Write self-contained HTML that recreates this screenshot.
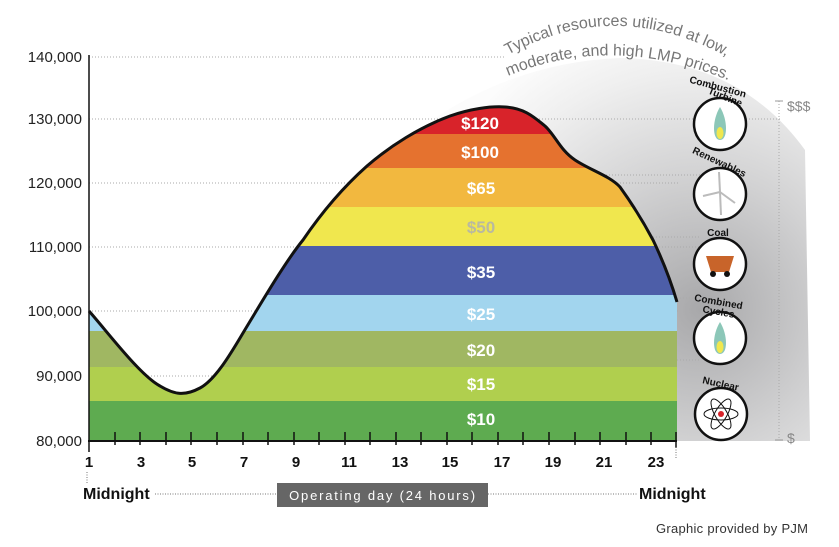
<!DOCTYPE html>
<html><head><meta charset="utf-8"><style>
body{margin:0;background:#fff}
svg{display:block}
text{font-family:"Liberation Sans",sans-serif}
</style></head><body>
<svg width="839" height="547" viewBox="0 0 839 547">
<defs>
<radialGradient id="g" cx="700" cy="310" r="300" gradientUnits="userSpaceOnUse">
<stop offset="0" stop-color="#a8a8aa"/><stop offset="0.45" stop-color="#d2d2d3"/><stop offset="0.8" stop-color="#efefef"/><stop offset="1" stop-color="#fcfcfc"/>
</radialGradient>
<clipPath id="c"><path d="M89,311 C110,335 140,375 160,386 C175,395 185,396 200,388 C215,380 230,355 243,333 C260,305 285,262 303,240 C320,215 340,190 367,166 C390,146 420,127 450,116 C470,109 490,106 505,107 C525,108 535,118 545,126 C555,135 560,150 575,160 C590,170 610,176 620,187 C633,205 645,225 653,240 C665,265 672,285 677,302 L677,441 L89,441 Z"/></clipPath>
<path id="a1" d="M508,55 Q640,-18 780,92"/>
<path id="a2" d="M508,76 Q630,25 770,100"/>
</defs>
<path d="M435,118 Q520,62 620,58 Q740,60 805,150 L810,441 L677,441 L677,300 Z" fill="url(#g)"/>
<g stroke="#aaa" stroke-width="1" stroke-dasharray="1,2">
<line x1="89" y1="57" x2="505" y2="57"/><line x1="89" y1="119" x2="780" y2="119"/>
<line x1="89" y1="183" x2="680" y2="183"/><line x1="89" y1="247" x2="700" y2="247"/>
<line x1="89" y1="311" x2="680" y2="311"/><line x1="100" y1="376" x2="300" y2="376"/>
<line x1="600" y1="175" x2="700" y2="175"/><line x1="650" y1="237" x2="700" y2="237"/>
<line x1="677" y1="298" x2="700" y2="298"/><line x1="677" y1="360" x2="700" y2="360"/>
<line x1="779" y1="101" x2="779" y2="440"/>
</g>
<line x1="775" y1="101" x2="783" y2="101" stroke="#999"/><line x1="775" y1="440" x2="783" y2="440" stroke="#999"/>
<g clip-path="url(#c)">
<rect x="89" y="100" width="590" height="35" fill="#d8232a"/>
<rect x="89" y="134" width="590" height="34" fill="#e5722f"/>
<rect x="89" y="168" width="590" height="39" fill="#f2b83f"/>
<rect x="89" y="207" width="590" height="39" fill="#f0e74e"/>
<rect x="89" y="246" width="590" height="49" fill="#4d5ea8"/>
<rect x="89" y="295" width="590" height="36" fill="#a2d5ee"/>
<rect x="89" y="331" width="590" height="36" fill="#a0b762"/>
<rect x="89" y="367" width="590" height="34" fill="#b0cf4e"/>
<rect x="89" y="401" width="590" height="40" fill="#5eab50"/>
</g>
<path d="M89,311 C110,335 140,375 160,386 C175,395 185,396 200,388 C215,380 230,355 243,333 C260,305 285,262 303,240 C320,215 340,190 367,166 C390,146 420,127 450,116 C470,109 490,106 505,107 C525,108 535,118 545,126 C555,135 560,150 575,160 C590,170 610,176 620,187 C633,205 645,225 653,240 C665,265 672,285 677,302" fill="none" stroke="#111" stroke-width="3"/>
<g font-weight="bold" font-size="17" fill="#fff" text-anchor="middle">
<text x="480" y="129">$120</text><text x="480" y="158">$100</text><text x="481" y="194">$65</text>
<text x="481" y="233" fill="#b9b9a0">$50</text><text x="481" y="278">$35</text><text x="481" y="320">$25</text>
<text x="481" y="356">$20</text><text x="481" y="390">$15</text><text x="481" y="425">$10</text>
</g>
<line x1="89" y1="55" x2="89" y2="442" stroke="#111" stroke-width="1.5"/>
<line x1="88" y1="441" x2="677" y2="441" stroke="#111" stroke-width="2"/>
<g stroke="#111" stroke-width="1.5">
<line x1="89" y1="441" x2="89" y2="452"/><line x1="115" y1="432" x2="115" y2="445"/><line x1="140" y1="432" x2="140" y2="445"/><line x1="166" y1="432" x2="166" y2="445"/><line x1="191" y1="432" x2="191" y2="445"/><line x1="217" y1="432" x2="217" y2="445"/><line x1="243" y1="432" x2="243" y2="445"/><line x1="268" y1="432" x2="268" y2="445"/><line x1="294" y1="432" x2="294" y2="445"/><line x1="319" y1="432" x2="319" y2="445"/><line x1="345" y1="432" x2="345" y2="445"/><line x1="370" y1="432" x2="370" y2="445"/><line x1="396" y1="432" x2="396" y2="445"/><line x1="421" y1="432" x2="421" y2="445"/><line x1="447" y1="432" x2="447" y2="445"/><line x1="472" y1="432" x2="472" y2="445"/><line x1="498" y1="432" x2="498" y2="445"/><line x1="523" y1="432" x2="523" y2="445"/><line x1="549" y1="432" x2="549" y2="445"/><line x1="575" y1="432" x2="575" y2="445"/><line x1="600" y1="432" x2="600" y2="445"/><line x1="626" y1="432" x2="626" y2="445"/><line x1="651" y1="432" x2="651" y2="445"/><line x1="676" y1="432" x2="676" y2="448"/>
</g>
<g font-size="15" fill="#222" text-anchor="end">
<text x="82" y="62">140,000</text><text x="82" y="124">130,000</text><text x="82" y="188">120,000</text>
<text x="82" y="252">110,000</text><text x="82" y="316">100,000</text><text x="82" y="381">90,000</text><text x="82" y="446">80,000</text>
</g>
<g font-size="15" font-weight="bold" fill="#111" text-anchor="middle">
<text x="89" y="467">1</text><text x="141" y="467">3</text><text x="192" y="467">5</text><text x="244" y="467">7</text>
<text x="296" y="467">9</text><text x="349" y="467">11</text><text x="400" y="467">13</text><text x="450" y="467">15</text>
<text x="502" y="467">17</text><text x="553" y="467">19</text><text x="604" y="467">21</text><text x="656" y="467">23</text>
</g>
<g stroke="#777" stroke-dasharray="1,1.5" fill="none">
<line x1="87" y1="472" x2="87" y2="484"/><line x1="676" y1="447" x2="676" y2="458"/>
<line x1="155" y1="494" x2="277" y2="494"/><line x1="488" y1="494" x2="638" y2="494"/>
</g>
<rect x="277" y="483" width="211" height="24" fill="#666"/>
<text x="383" y="500" font-size="13" fill="#fff" text-anchor="middle" letter-spacing="1.8">Operating day (24 hours)</text>
<text x="83" y="499" font-size="16" font-weight="bold" fill="#111">Midnight</text>
<text x="639" y="499" font-size="16" font-weight="bold" fill="#111">Midnight</text>
<text x="808" y="533" font-size="13" fill="#333" text-anchor="end" textLength="152">Graphic provided by PJM</text>
<g font-size="16" fill="#777">
<text><textPath href="#a1">Typical resources utilized at low,</textPath></text>
<text><textPath href="#a2">moderate, and high LMP prices.</textPath></text>
</g>
<g font-size="14" fill="#888"><text x="787" y="111">$$$</text><text x="787" y="443">$</text></g>
<g fill="#fff" stroke="#111" stroke-width="2.5">
<circle cx="720" cy="124" r="26"/><circle cx="720" cy="194" r="26"/><circle cx="720" cy="264" r="26"/>
<circle cx="720" cy="338" r="26"/><circle cx="721" cy="414" r="26"/>
</g>
<g font-size="10" font-weight="bold" fill="#111" text-anchor="middle">
<text x="717" y="90" transform="rotate(15 717 90)">Combustion</text><text x="724" y="100" transform="rotate(22 724 100)">Turbine</text>
<text x="718" y="165" transform="rotate(25 718 165)">Renewables</text>
<text x="718" y="236">Coal</text>
<text x="718" y="305" transform="rotate(10 718 305)">Combined</text><text x="718" y="315" transform="rotate(10 718 315)">Cycles</text>
<text x="720" y="387" transform="rotate(12 720 387)">Nuclear</text>
</g>
<path d="M720,107 C712,120 712,140 720,140 C728,140 728,120 720,107Z" fill="#8cc7b8"/><ellipse cx="720" cy="133" rx="3.5" ry="6" fill="#f0e74e"/>
<path d="M720,322 C712,335 712,354 720,354 C728,354 728,335 720,322Z" fill="#8cc7b8"/><ellipse cx="720" cy="347" rx="3.5" ry="6" fill="#f0e74e"/>
<g stroke="#bbb" stroke-width="2"><line x1="720" y1="192" x2="719" y2="172"/><line x1="720" y1="192" x2="703" y2="196"/><line x1="720" y1="192" x2="735" y2="203"/><line x1="720" y1="192" x2="721" y2="215"/></g>
<path d="M706,256 L734,256 L729,272 L711,272Z" fill="#c8642a"/><circle cx="713" cy="274" r="3" fill="#111"/><circle cx="727" cy="274" r="3" fill="#111"/>
<g fill="none" stroke="#111" stroke-width="1"><ellipse cx="721" cy="414" rx="17" ry="6"/><ellipse cx="721" cy="414" rx="17" ry="6" transform="rotate(60 721 414)"/><ellipse cx="721" cy="414" rx="17" ry="6" transform="rotate(-60 721 414)"/></g>
<circle cx="721" cy="414" r="3" fill="#d8232a"/>
</svg>
</body></html>
